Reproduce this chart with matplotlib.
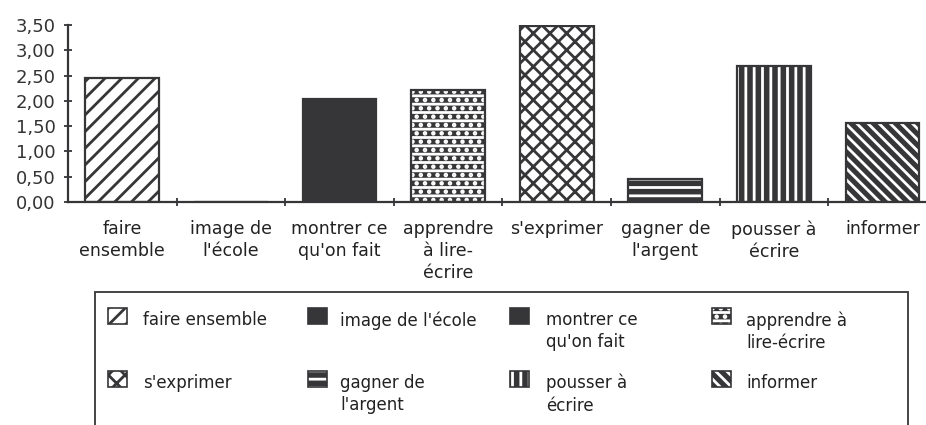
import matplotlib
matplotlib.use("Agg")
import matplotlib.pyplot as plt
from matplotlib.patches import Rectangle
from matplotlib.ticker import FixedLocator, FuncFormatter

categories = ["faire ensemble", "image de l'école", "montrer ce qu'on fait",
              "apprendre à lire-écrire", "s'exprimer", "gagner de l'argent",
              "pousser à écrire", "informer"]
tick_labels = ["faire\nensemble", "image de\nl'école", "montrer ce\nqu'on fait",
               "apprendre\nà lire-\nécrire", "s'exprimer", "gagner de\nl'argent",
               "pousser à\nécrire", "informer"]
legend_labels = ["faire ensemble", "image de l'école", "montrer ce\nqu'on fait",
                 "apprendre à\nlire-écrire", "s'exprimer", "gagner de\nl'argent",
                 "pousser à\nécrire", "informer"]
values = [2.45, 0.0, 2.03, 2.22, 3.48, 0.45, 2.68, 1.57]
y_ticks = [0.0, 0.5, 1.0, 1.5, 2.0, 2.5, 3.0, 3.5]

DARK = "#363638"
# (facecolor, hatch colour, hatch)
styles = [
    ("white", DARK, "//"),
    (DARK, DARK, None),
    (DARK, DARK, None),
    (DARK, "white", "--.."),
    ("white", DARK, "xx"),
    (DARK, "white", "--"),
    (DARK, "white", "||"),
    (DARK, "white", "\\\\\\"),
]

plt.rcParams["hatch.linewidth"] = 2.0
plt.rcParams["font.family"] = ["DejaVu Sans"]

W, H = 926, 425
fig = plt.figure(figsize=(W / 100, H / 100), dpi=100)
ax = fig.add_axes([68 / W, 1 - 202 / H, 1 - 68 / W, (202 - 25) / H])

x = list(range(len(categories)))
for i, (v, (fc, hc, hatch)) in enumerate(zip(values, styles)):
    ax.bar(x[i], v, width=0.68, color=fc, edgecolor=hc, hatch=hatch, linewidth=0)
ax.bar(x, values, width=0.68, facecolor="none", edgecolor=DARK, linewidth=1.6)

ax.set_xlim(-0.5, 7.4)
ax.set_ylim(0, 3.5)
ax.yaxis.set_major_locator(FixedLocator(y_ticks))
ax.yaxis.set_major_formatter(FuncFormatter(lambda v, p: f"{v:.2f}".replace(".", ",")))
ax.set_xticks(x)
ax.set_xticklabels(tick_labels, fontsize=12.5, linespacing=1.3)
ax.set_xticks([i + 0.5 for i in x[:-1]], minor=True)
ax.tick_params(axis="x", which="major", length=0, pad=13)
ax.tick_params(axis="x", which="minor", length=6, direction="inout", width=1.3, color=DARK)
ax.tick_params(axis="y", which="major", length=6, direction="inout", width=1.3,
               color=DARK, labelsize=13, pad=6)
for lab in ax.get_yticklabels():
    lab.set_color("#333333")
for lab in ax.get_xticklabels():
    lab.set_color("#222222")
for s in ("top", "right"):
    ax.spines[s].set_visible(False)
for s in ("left", "bottom"):
    ax.spines[s].set_color(DARK)
    ax.spines[s].set_linewidth(1.6)

# legend box (cut off at the bottom of the picture)
fig.patches.append(Rectangle((95 / W, -0.1), (908 - 95) / W, (H - 292) / H + 0.1,
                             transform=fig.transFigure, fill=False,
                             edgecolor=DARK, linewidth=1.3))
patch_x = [108, 308, 510, 712]
text_x = [143, 340, 546, 746]
patch_y = [308, 371]
for i, lab in enumerate(legend_labels):
    col, row = i % 4, i // 4
    fc, hc, hatch = styles[i]
    px, py = patch_x[col], patch_y[row]
    fig.patches.append(Rectangle((px / W, 1 - (py + 16) / H), 19 / W, 16 / H,
                                 transform=fig.transFigure, facecolor=fc,
                                 edgecolor=hc, hatch=hatch, linewidth=0))
    fig.patches.append(Rectangle((px / W, 1 - (py + 16) / H), 19 / W, 16 / H,
                                 transform=fig.transFigure, facecolor="none",
                                 edgecolor=DARK, linewidth=1.2))
    fig.text(text_x[col] / W, 1 - (py + 3) / H, lab, fontsize=12, va="top",
             ha="left", linespacing=1.3, color="#222222")

fig.savefig("out.png", dpi=100)
